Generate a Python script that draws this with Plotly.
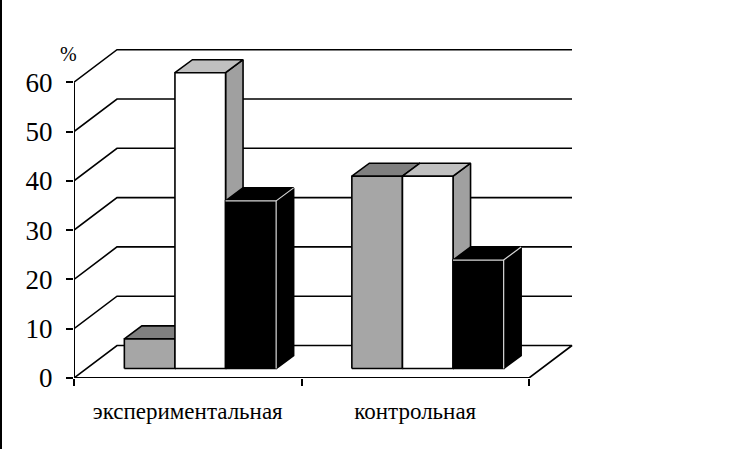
import plotly.graph_objects as go

categories = ["экспериментальная", "контрольная"]
series_a = [6, 39]
series_b = [60, 39]
series_c = [34, 22]
y_ticks = [0, 10, 20, 30, 40, 50, 60]

PX_X, PX_Y = 227.5, 4.93          # pixels per category / per percent
WALL_DX, WALL_DY = 43 / PX_X, 32.5 / PX_Y
BAR_DX, BAR_DY = 17.5 / PX_X, 13 / PX_Y
FRONT_DX, FRONT_DY = 12.5 / PX_X, 9.5 / PX_Y
BAR_W = 50.6 / PX_X
LINE = 1.6

styles = [
    (series_a, "#a6a6a6", "#7f7f7f", "#7f7f7f", "#000000"),
    (series_b, "#ffffff", "#c0c0c0", "#a0a0a0", "#000000"),
    (series_c, "#000000", "#000000", "#000000", "#d8d8d8"),
]

fig = go.Figure()


def poly(xs, ys, fill=None, color="#000000", width=LINE):
    fig.add_trace(go.Scatter(
        x=xs, y=ys, mode="lines", line=dict(color=color, width=width),
        fill="toself" if fill else "none", fillcolor=fill,
        hoverinfo="skip", showlegend=False))


x0, x1 = -0.5, 1.5
# floor and back wall lines
for v in y_ticks:
    if v == 0:
        poly([x0, x0 + WALL_DX, x1 + WALL_DX, x1], [0, WALL_DY, WALL_DY, 0])
    else:
        poly([x0, x0 + WALL_DX, x1 + WALL_DX], [v, v + WALL_DY, v + WALL_DY])
poly([x0, x0], [0, 60], width=2)
poly([x0, x1], [0, 0], width=2)

# bars, back to front, left to right
for c in range(len(categories)):
    for s, (vals, front, top, side, inner) in enumerate(styles):
        v = vals[c]
        l = c - 1.5 * BAR_W + s * BAR_W + FRONT_DX
        r = l + BAR_W
        b = FRONT_DY
        t = b + v
        poly([r, r + BAR_DX, r + BAR_DX, r, r], [b, b + BAR_DY, t + BAR_DY, t, b], side)
        poly([l, l + BAR_DX, r + BAR_DX, r, l], [t, t + BAR_DY, t + BAR_DY, t, t], top)
        poly([l, r, r, l, l], [b, b, t, t, b], front)
        if inner != "#000000":
            poly([l, r, r], [t, t, b], color=inner, width=1.2)
            poly([r, r + BAR_DX], [t, t + BAR_DY], color=inner, width=1.2)

fig.update_layout(
    width=751, height=449, autosize=False,
    margin=dict(l=74, r=161, t=40, b=71, pad=0),
    paper_bgcolor="white", plot_bgcolor="white",
    font=dict(family="Liberation Serif", color="black"),
    showlegend=False,
    xaxis=dict(
        range=[x0, x0 + (751 - 161 - 74) / PX_X], showgrid=False, zeroline=False, showline=False,
        tickmode="array", tickvals=[0, 1], ticktext=categories, ticks="",
        tickfont=dict(size=23), ticklabelstandoff=17,
        minor=dict(tickmode="array", tickvals=[-0.5, 0.5, 1.5], ticks="outside",
                   ticklen=7, tickwidth=2, tickcolor="black", showgrid=False),
    ),
    yaxis=dict(
        range=[0, (378 - 40) / PX_Y], showgrid=False, zeroline=False, showline=False,
        tickmode="array", tickvals=y_ticks, ticks="outside", ticklen=7, tickwidth=2,
        tickcolor="black", tickfont=dict(size=27), ticklabelstandoff=8,
    ),
    annotations=[dict(text="%", xref="paper", yref="paper", x=(68 - 74) / 516, y=(378 - 54) / 338,
                      showarrow=False, font=dict(size=20), xanchor="center", yanchor="middle")],
    shapes=[dict(type="line", xref="paper", yref="paper", x0=-73 / 516, x1=-73 / 516,
                 y0=-71 / 338, y1=(338 + 40) / 338, line=dict(color="black", width=2))],
)

fig.write_html("out.html", post_script="document.body.style.margin='0';document.body.style.overflow='hidden';",
               config={"displayModeBar": False})
